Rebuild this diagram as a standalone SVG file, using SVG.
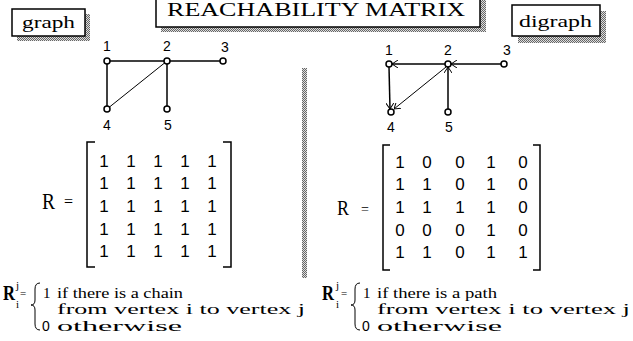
<svg xmlns="http://www.w3.org/2000/svg" width="633" height="341" viewBox="0 0 633 341">
  <defs>
    <pattern id="stipple" x="0" y="0" width="2" height="2" patternUnits="userSpaceOnUse">
      <rect width="2" height="2" fill="#dedede"/>
      <rect x="0" y="0" width="1" height="1" fill="#666"/>
      <rect x="1" y="1" width="1" height="1" fill="#666"/>
    </pattern>
    <marker id="vee" viewBox="0 0 6 8" refX="6" refY="4" markerWidth="6" markerHeight="8" markerUnits="userSpaceOnUse" orient="auto">
      <path d="M0,0 L6,4 L0,8" fill="none" stroke="#000" stroke-width="1"/>
    </marker>
    <style>
      .box { fill: #fff; stroke: #000; stroke-width: 1.5; }
      .shadow { fill: url(#stipple); }
      .serif { font-family: "Liberation Serif", "Times New Roman", serif; fill: #000; }
      .sans { font-family: "Liberation Sans", Arial, sans-serif; fill: #000; }
      .lbl { font-size: 14px; text-anchor: middle; }
      .cell { font-size: 17px; text-anchor: middle; }
      .edge { stroke: #000; stroke-width: 1.5; fill: none; }
      .thin { stroke: #000; stroke-width: 1; fill: none; }
      .node { fill: #fff; stroke: #000; stroke-width: 1.5; }
      .bracket { stroke: #000; stroke-width: 1.5; fill: none; }
      .brace { stroke: #000; stroke-width: 1; fill: none; }
      .def { font-size: 15px; }
    </style>
  </defs>

  <!-- title -->
  <g id="title">
    <rect class="shadow" x="161" y="0" width="325" height="32"/>
    <rect class="box" x="156" y="-5" width="324" height="32"/>
    <text class="serif" x="167" y="16" font-size="18" textLength="298" lengthAdjust="spacingAndGlyphs">REACHABILITY  MATRIX</text>
  </g>

  <!-- caption boxes -->
  <g id="graph-label">
    <rect class="shadow" x="17" y="14" width="73" height="27"/>
    <rect class="box" x="12" y="9" width="73" height="27"/>
    <text class="serif" x="22" y="28" font-size="17" textLength="53" lengthAdjust="spacingAndGlyphs">graph</text>
  </g>
  <g id="digraph-label">
    <rect class="shadow" x="518" y="11" width="88" height="32"/>
    <rect class="box" x="512" y="5" width="88" height="31"/>
    <text class="serif" x="519" y="27" font-size="17" textLength="73" lengthAdjust="spacingAndGlyphs">digraph</text>
  </g>

  <!-- divider -->
  <rect id="divider" class="shadow" x="302" y="68" width="5" height="210"/>

  <!-- undirected graph -->
  <g id="graph-edges">
    <line class="edge" x1="107" y1="61" x2="223" y2="61"/>
    <line class="edge" x1="107" y1="61" x2="107" y2="109"/>
    <line class="edge" x1="167" y1="61" x2="167" y2="109"/>
    <line class="thin" x1="167" y1="61" x2="107" y2="109"/>
  </g>
  <g id="g-n1"><circle class="node" cx="107" cy="61" r="3"/><text class="sans lbl" x="107" y="51">1</text></g>
  <g id="g-n2"><circle class="node" cx="167" cy="61" r="3"/><text class="sans lbl" x="167" y="51">2</text></g>
  <g id="g-n3"><circle class="node" cx="223" cy="61" r="3"/><text class="sans lbl" x="225" y="52">3</text></g>
  <g id="g-n4"><circle class="node" cx="107" cy="109" r="3"/><text class="sans lbl" x="107" y="130">4</text></g>
  <g id="g-n5"><circle class="node" cx="167" cy="109" r="3"/><text class="sans lbl" x="168" y="130">5</text></g>

  <!-- directed graph -->
  <g id="digraph-edges">
    <line class="edge" x1="445" y1="64" x2="392" y2="64" marker-end="url(#vee)"/>
    <line class="edge" x1="501" y1="64" x2="451" y2="64" marker-end="url(#vee)"/>
    <line class="edge" x1="389" y1="67" x2="390" y2="109" marker-end="url(#vee)"/>
    <line class="edge" x1="448" y1="109" x2="448" y2="67" marker-end="url(#vee)"/>
    <line class="thin" x1="446" y1="67" x2="394" y2="109" marker-end="url(#vee)"/>
  </g>
  <g id="d-n1"><circle class="node" cx="389" cy="64" r="3"/><text class="sans lbl" x="389" y="55">1</text></g>
  <g id="d-n2"><circle class="node" cx="448" cy="64" r="3"/><text class="sans lbl" x="448" y="55">2</text></g>
  <g id="d-n3"><circle class="node" cx="504" cy="64" r="3"/><text class="sans lbl" x="507" y="55">3</text></g>
  <g id="d-n4"><circle class="node" cx="391" cy="112" r="3"/><text class="sans lbl" x="391" y="132">4</text></g>
  <g id="d-n5"><circle class="node" cx="448" cy="112" r="3"/><text class="sans lbl" x="449" y="132">5</text></g>

  <!-- undirected reachability matrix -->
  <g id="matrix-left">
    <text class="serif" x="42" y="209" font-size="24" textLength="13" lengthAdjust="spacingAndGlyphs">R</text>
    <text class="serif" x="64" y="207" font-size="16">=</text>
    <path class="bracket" d="M95,142 H87 V267 H95"/>
    <path class="bracket" d="M223,142 H231 V267 H223"/>
    <g class="sans cell">
      <text y="167"><tspan x="104">1</tspan><tspan x="131">1</tspan><tspan x="158">1</tspan><tspan x="185">1</tspan><tspan x="212">1</tspan></text>
      <text y="189"><tspan x="104">1</tspan><tspan x="131">1</tspan><tspan x="158">1</tspan><tspan x="185">1</tspan><tspan x="212">1</tspan></text>
      <text y="212"><tspan x="104">1</tspan><tspan x="131">1</tspan><tspan x="158">1</tspan><tspan x="185">1</tspan><tspan x="212">1</tspan></text>
      <text y="235"><tspan x="104">1</tspan><tspan x="131">1</tspan><tspan x="158">1</tspan><tspan x="185">1</tspan><tspan x="212">1</tspan></text>
      <text y="257"><tspan x="104">1</tspan><tspan x="131">1</tspan><tspan x="158">1</tspan><tspan x="185">1</tspan><tspan x="212">1</tspan></text>
    </g>
  </g>

  <!-- directed reachability matrix -->
  <g id="matrix-right">
    <text class="serif" x="337" y="215" font-size="21" textLength="12" lengthAdjust="spacingAndGlyphs">R</text>
    <text class="serif" x="361" y="214" font-size="14">=</text>
    <path class="bracket" d="M390,145 H383 V270 H390"/>
    <path class="bracket" d="M533,145 H540 V270 H533"/>
    <g class="sans cell">
      <text y="168"><tspan x="400">1</tspan><tspan x="427">0</tspan><tspan x="460">0</tspan><tspan x="491">1</tspan><tspan x="523">0</tspan></text>
      <text y="190"><tspan x="400">1</tspan><tspan x="427">1</tspan><tspan x="460">0</tspan><tspan x="491">1</tspan><tspan x="523">0</tspan></text>
      <text y="213"><tspan x="400">1</tspan><tspan x="427">1</tspan><tspan x="460">1</tspan><tspan x="491">1</tspan><tspan x="523">0</tspan></text>
      <text y="236"><tspan x="400">0</tspan><tspan x="427">0</tspan><tspan x="460">0</tspan><tspan x="491">1</tspan><tspan x="523">0</tspan></text>
      <text y="258"><tspan x="400">1</tspan><tspan x="427">1</tspan><tspan x="460">0</tspan><tspan x="491">1</tspan><tspan x="523">1</tspan></text>
    </g>
  </g>

  <!-- definition: chain -->
  <g id="def-left">
    <text class="serif" x="3" y="300" font-size="20" font-weight="bold" textLength="12" lengthAdjust="spacingAndGlyphs">R</text>
    <text class="serif" x="16" y="289" font-size="11">j</text>
    <text class="serif" x="16" y="308" font-size="11">i</text>
    <text class="serif" x="20" y="297" font-size="11">=</text>
    <path class="brace" d="M40,283 Q35,283 35,289 V300 Q35,305 31,305 Q35,305 35,310 V324 Q35,330 40,330"/>
    <text class="serif def" x="43" y="298">1</text>
    <text class="serif def" x="57" y="298" textLength="126" lengthAdjust="spacingAndGlyphs">if there is a chain</text>
    <text class="serif def" x="57" y="314" textLength="248" lengthAdjust="spacingAndGlyphs">from vertex i to vertex j</text>
    <text class="sans" x="42" y="331" font-size="14">0</text>
    <text class="serif def" x="57" y="331" textLength="125" lengthAdjust="spacingAndGlyphs">otherwise</text>
  </g>

  <!-- definition: path -->
  <g id="def-right">
    <text class="serif" x="322" y="300" font-size="20" font-weight="bold" textLength="12" lengthAdjust="spacingAndGlyphs">R</text>
    <text class="serif" x="336" y="289" font-size="11">j</text>
    <text class="serif" x="336" y="308" font-size="11">i</text>
    <text class="serif" x="341" y="297" font-size="11">=</text>
    <path class="brace" d="M360,283 Q355,283 355,289 V300 Q355,305 351,305 Q355,305 355,310 V324 Q355,330 360,330"/>
    <text class="serif def" x="363" y="298">1</text>
    <text class="serif def" x="377" y="298" textLength="120" lengthAdjust="spacingAndGlyphs">if there is a path</text>
    <text class="serif def" x="377" y="314" textLength="253" lengthAdjust="spacingAndGlyphs">from vertex i to vertex j</text>
    <text class="sans" x="362" y="331" font-size="14">0</text>
    <text class="serif def" x="377" y="331" textLength="125" lengthAdjust="spacingAndGlyphs">otherwise</text>
  </g>
</svg>
